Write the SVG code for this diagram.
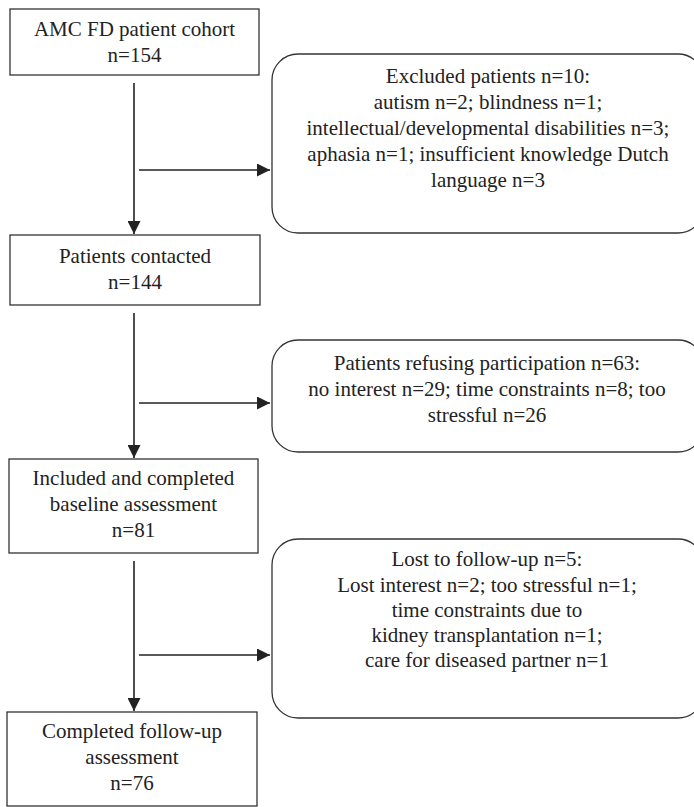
<svg xmlns="http://www.w3.org/2000/svg" width="694" height="807" viewBox="0 0 694 807">
<style>
  .box { fill: #fff; stroke: #333; stroke-width: 1.3; }
  text { font-family: 'Liberation Serif', 'Times New Roman', Times, Tinos, 'Nimbus Roman', 'Noto Serif', 'DejaVu Serif', serif; font-size: 21px; fill: #222; text-anchor: middle; }
  .conn { stroke: #222; stroke-width: 1.6; fill: none; }
</style>
<defs>
  <marker id="arr" markerUnits="userSpaceOnUse" markerWidth="13" markerHeight="13" viewBox="0 0 12 12" refX="12" refY="6" orient="auto">
    <path d="M0,0 L12,6 L0,12 Z" fill="#222"/>
  </marker>
</defs>
<rect width="694" height="807" fill="#fff"/>
<g id="connectors">
  <line class="conn" x1="134" y1="83" x2="134" y2="234" marker-end="url(#arr)"/>
  <line class="conn" x1="139" y1="170" x2="270" y2="170" marker-end="url(#arr)"/>
  <line class="conn" x1="134" y1="313" x2="134" y2="458" marker-end="url(#arr)"/>
  <line class="conn" x1="139" y1="403" x2="270" y2="403" marker-end="url(#arr)"/>
  <line class="conn" x1="134" y1="561" x2="134" y2="711" marker-end="url(#arr)"/>
  <line class="conn" x1="139" y1="655" x2="270" y2="655" marker-end="url(#arr)"/>
</g>
<g id="cohort">
  <rect class="box" x="10" y="9" width="249" height="66"/>
  <text x="134.5" y="36">AMC FD patient cohort</text>
  <text x="134.5" y="62">n=154</text>
</g>
<g id="excluded">
  <rect class="box" x="272" y="54" width="432" height="179" rx="26" ry="26"/>
  <text x="488" y="83">Excluded patients n=10:</text>
  <text x="488" y="109">autism n=2; blindness n=1;</text>
  <text x="488" y="135">intellectual/developmental disabilities n=3;</text>
  <text x="488" y="161">aphasia n=1; insufficient knowledge Dutch</text>
  <text x="488" y="187">language n=3</text>
</g>
<g id="contacted">
  <rect class="box" x="10" y="235" width="250" height="70"/>
  <text x="135" y="263">Patients contacted</text>
  <text x="135" y="289">n=144</text>
</g>
<g id="refusing">
  <rect class="box" x="272" y="340" width="432" height="112" rx="26" ry="26"/>
  <text x="487" y="370">Patients refusing participation n=63:</text>
  <text x="487" y="396">no interest n=29; time constraints n=8; too</text>
  <text x="487" y="422">stressful n=26</text>
</g>
<g id="included">
  <rect class="box" x="9" y="459" width="249" height="94"/>
  <text x="133.5" y="485">Included and completed</text>
  <text x="133.5" y="511">baseline assessment</text>
  <text x="133.5" y="537">n=81</text>
</g>
<g id="lost">
  <rect class="box" x="272" y="539" width="432" height="179" rx="26" ry="26"/>
  <text x="487" y="566">Lost to follow-up n=5:</text>
  <text x="487" y="592">Lost interest n=2; too stressful n=1;</text>
  <text x="487" y="617">time constraints due to</text>
  <text x="487" y="642">kidney transplantation n=1;</text>
  <text x="487" y="667">care for diseased partner n=1</text>
</g>
<g id="completed">
  <rect class="box" x="7" y="712" width="250" height="94"/>
  <text x="132" y="738">Completed follow-up</text>
  <text x="132" y="764">assessment</text>
  <text x="132" y="790">n=76</text>
</g>
</svg>
